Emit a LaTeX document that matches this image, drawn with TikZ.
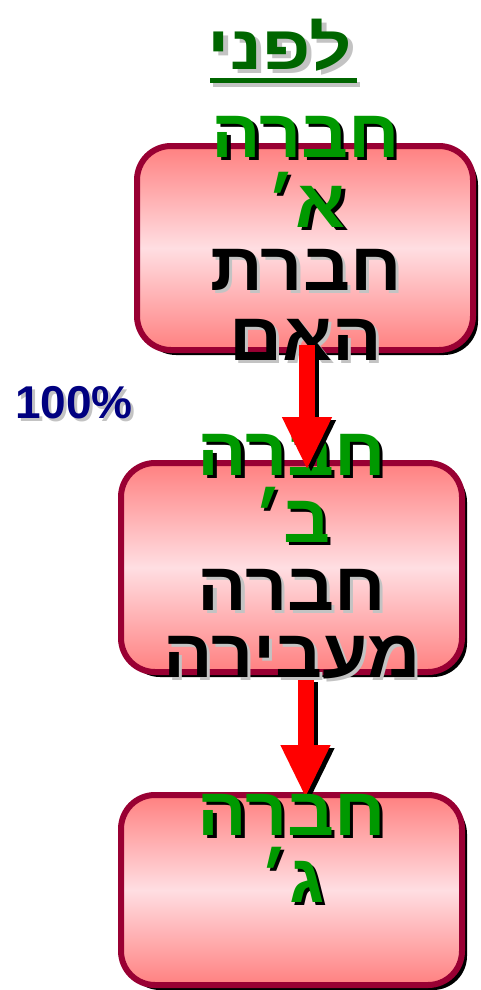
\documentclass[tikz,border=0pt]{standalone}
\usepackage{fontspec}
\usetikzlibrary{arrows.meta,shadows}
\TeXXeTstate=1
\newfontfamily\hebfont[Script=Hebrew]{Liberation Sans}
\newfontfamily\latfont{Liberation Sans}
\definecolor{boxborder}{RGB}{153,0,51}
\definecolor{pinkA}{RGB}{255,128,128}
\definecolor{pinkB}{RGB}{255,222,226}
\definecolor{grn}{RGB}{0,153,0}
\definecolor{dkgrn}{RGB}{0,102,0}
\definecolor{navytxt}{RGB}{0,0,128}
\definecolor{txtshadow}{RGB}{195,195,195}
\definecolor{arrred}{RGB}{255,0,0}
% text with a drop shadow: #1 colour, #2 shadow colour, #3 offset, #4 text
\newcommand\shtxt[4]{\rlap{\kern#3\raise-#3\hbox{\color{#2}\beginR #4\endR}}\hbox{\color{#1}\beginR #4\endR}}
\begin{document}
\begin{tikzpicture}[x=1pt,y=-1pt,
  hebtxt/.style={font=\hebfont\bfseries\fontsize{68}{68}\selectfont, inner sep=0pt, anchor=base},
  box/.style={draw=boxborder, line width=6pt, rounded corners=34pt, outer sep=0pt, inner sep=0pt,
    top color=pinkA, bottom color=pinkA, middle color=pinkB,
    drop shadow={fill=black, opacity=1, shadow xshift=5pt, shadow yshift=-5pt}},
  arr/.style={line width=16pt, -{Triangle[width=46pt,length=53pt]}, draw=arrred},
  arrsh/.style={line width=16pt, -{Triangle[width=46pt,length=53pt]}, draw=black}]
\useasboundingbox (0,0) rectangle (481,990);
% boxes
\node[box, minimum width=336pt, minimum height=204pt] (b1) at (305,248) {};
\node[box, minimum width=341pt, minimum height=209pt] (b2) at (291.5,567.5) {};
\node[box, minimum width=341pt, minimum height=190pt] (b3) at (291.5,890) {};
% arrow 2 (behind the text of box 2)
\coordinate (a2s) at ([xshift=14pt,yshift=-7pt]b2.south);
\coordinate (a2e) at ([yshift=-3pt]a2s |- b3.north);
\draw[arrsh] ([xshift=4pt,yshift=-3pt]a2s) -- ([xshift=4pt,yshift=-3pt]a2e);
\draw[arr] (a2s) -- (a2e);
% title
\node[font=\hebfont\bfseries\fontsize{62}{62}\selectfont, inner sep=0pt, anchor=base] (t) at (280,70)
  {\scalebox{1.2}[1]{\shtxt{dkgrn}{txtshadow}{4pt}{לפני}}};
\fill[txtshadow] (213,82) rectangle (360,87);
\fill[dkgrn] (210,78) rectangle (357,83);
% box 1 text
\node[hebtxt] (l11) at (306,157) {\scalebox{1.08}[1]{\shtxt{grn}{black}{3pt}{חברה}}};
\node[hebtxt] (l12) at (306,227) {\scalebox{1.08}[1]{\shtxt{grn}{black}{3pt}{א׳}}};
\node[hebtxt] (l13) at (306,290) {\scalebox{1.08}[1]{\shtxt{black}{txtshadow}{3pt}{חברת}}};
\node[hebtxt] (l14) at (306,360) {\scalebox{1.08}[1]{\shtxt{black}{txtshadow}{3pt}{האם}}};
% box 2 text
\node[hebtxt] (l21) at (292,475) {\scalebox{1.08}[1]{\shtxt{grn}{black}{3pt}{חברה}}};
\node[hebtxt] (l22) at (292,542) {\scalebox{1.08}[1]{\shtxt{grn}{black}{3pt}{ב׳}}};
\node[hebtxt] (l23) at (292,610) {\scalebox{1.08}[1]{\shtxt{black}{txtshadow}{3pt}{חברה}}};
\node[hebtxt] (l24) at (292,677) {\scalebox{1.08}[1]{\shtxt{black}{txtshadow}{3pt}{מעבירה}}};
% box 3 text
\node[hebtxt] (l31) at (292,835) {\scalebox{1.08}[1]{\shtxt{grn}{black}{3pt}{חברה}}};
\node[hebtxt] (l32) at (292,902) {\scalebox{1.08}[1]{\shtxt{grn}{black}{3pt}{ג׳}}};
% percentage
\node[font=\latfont\bfseries\fontsize{46}{46}\selectfont, inner sep=0pt, anchor=base west] (p) at (15,418)
  {\rlap{\kern3pt\raise-3pt\hbox{\color{txtshadow}100\%}}\hbox{\color{navytxt}100\%}};
% arrow 1 (on top)
\coordinate (a1s) at ([xshift=2pt,yshift=5pt]b1.south);
\coordinate (a1e) at ([yshift=-7pt]a1s |- b2.north);
\draw[arrsh] ([xshift=4pt,yshift=-3pt]a1s) -- ([xshift=4pt,yshift=-3pt]a1e);
\draw[arr] (a1s) -- (a1e);
\end{tikzpicture}
\end{document}
